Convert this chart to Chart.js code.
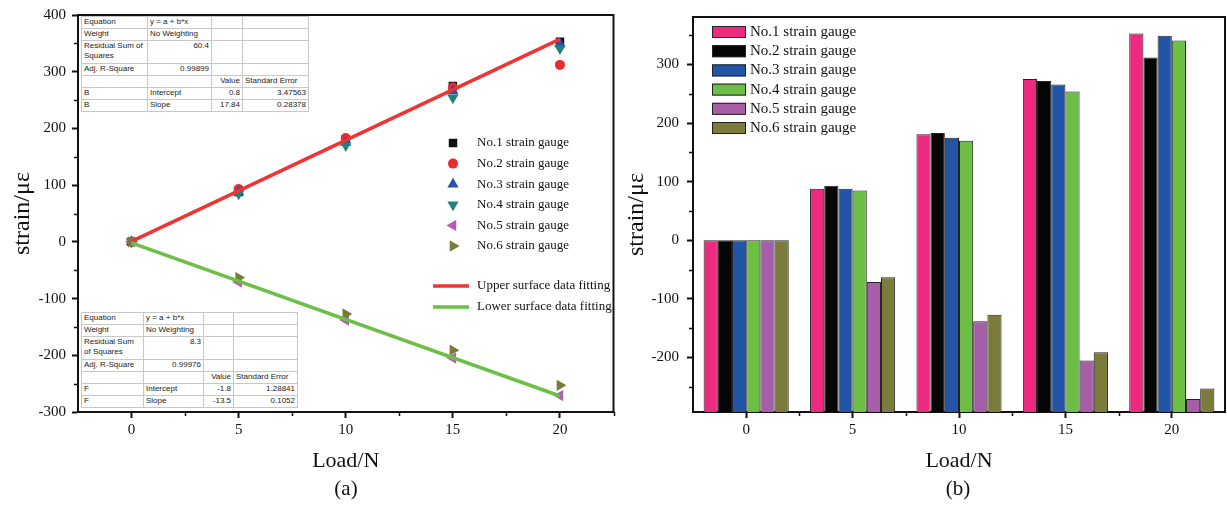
<!DOCTYPE html>
<html>
<head>
<meta charset="utf-8">
<script src="https://cdn.jsdelivr.net/npm/chart.js@4.4.1/dist/chart.umd.min.js"></script>
<style>
body { margin: 0; background: #fff; width: 1227px; height: 509px; position: relative; overflow: hidden; font-family: "Liberation Serif", "Times New Roman", serif; }
canvas { position: absolute; top: 0; }
#chartA { left: 0; }
#chartB { left: 620px; }
.fit { position: absolute; border-collapse: collapse; table-layout: fixed; background: #fff;
       font: 8px "Liberation Sans", Arial, sans-serif; color: #222; border: 1.5px solid #444; }
.fit td { border: 1px solid #c8c8c8; padding: 0 2px; height: 11px; line-height: 10px; vertical-align: top; white-space: nowrap; overflow: hidden; }
.fit td.r { text-align: right; }
.fit tr.tall td { height: 22px; white-space: normal; }
.panel { position: absolute; top: 476px; font-size: 21px; transform: translateX(-50%); color: #111; }
</style>
</head>
<body>
<canvas id="chartA" width="620" height="509"></canvas>
<canvas id="chartB" width="607" height="509"></canvas>
<table class="fit" id="tableUpper" style="left:81px; top:16px;"></table>
<table class="fit" id="tableLower" style="left:81px; top:312px;"></table>
<div class="panel" style="left:346px;">(a)</div>
<div class="panel" style="left:958px;">(b)</div>

<script>
// ---- data ----
const loadLabels = ['0', '5', '10', '15', '20'];
const loadValues = [0, 5, 10, 15, 20];
const gaugeNames = ['No.1 strain gauge', 'No.2 strain gauge', 'No.3 strain gauge',
                    'No.4 strain gauge', 'No.5 strain gauge', 'No.6 strain gauge'];
const gauge1 = [0, 88, 181, 275, 353];
const gauge2 = [0, 93, 183, 272, 312];
const gauge3 = [0, 88, 175, 266, 349];
const gauge4 = [0, 85, 170, 254, 341];
const gauge5 = [0, -71, -138, -205, -271];
const gauge6 = [0, -63, -127, -191, -253];
const gaugeSeries = [gauge1, gauge2, gauge3, gauge4, gauge5, gauge6];

// fitted lines, end points at Load = 0 and 20
const fitLoads = [0, 20];
const upperFit = [0.8, 357.6];
const lowerFit = [-1.8, -271.8];
const fitNames = ['Upper surface data fitting', 'Lower surface data fitting'];

// fit result tables
const upperStats = ['B', '60.4', '0.99899', '0.8', '3.47563', '17.84', '0.28378'];
const lowerStats = ['F', '8.3', '0.99976', '-1.8', '1.28841', '-13.5', '0.1052'];

// ticks
const yTicksA = [-300, -200, -100, 0, 100, 200, 300, 400];
const yMinorA = [-250, -150, -50, 50, 150, 250, 350];
const xTicksA = [0, 5, 10, 15, 20];
const xMinorA = [2.5, 7.5, 12.5, 17.5, 22.5];
const yTicksB = [-200, -100, 0, 100, 200, 300];
const yMinorB = [-250, -150, -50, 50, 150, 250, 350];
const xMinorB = [0.5, 1.5, 2.5, 3.5];
const yMinB = -293;
const yMaxB = 381;

// ---- styles ----
const markerColors = ['#111111', '#ea2a2c', '#2a50a8', '#23807b', '#b25cb6', '#7c7a36'];
const markerStyles = ['rect', 'circle', 'triangle', 'triangle', 'triangle', 'triangle'];
const markerRotation = [0, 0, 0, 180, 270, 90];
const markerRadius = [6, 5, 6.5, 6.5, 6.5, 6.5];
const barColors = ['#ee2a7e', '#060606', '#2255a6', '#6cbe44', '#a65fa7', '#7b7b3b'];
const fitColors = ['#ee3434', '#6cbf47'];
const serif = '"Liberation Serif", "Times New Roman", serif';
const ink = '#111';

// top/right frame and short minor ticks
const axisExtras = {
    id: 'axisExtras',
    afterDraw(chart, args, opts) {
        const { ctx, chartArea: a, scales } = chart;
        ctx.save();
        ctx.strokeStyle = ink;
        ctx.lineWidth = 2;
        ctx.beginPath();
        ctx.moveTo(a.left - 1, a.top);
        ctx.lineTo(a.right, a.top);
        ctx.lineTo(a.right, a.bottom + 1);
        ctx.stroke();
        ctx.lineWidth = 1.5;
        ctx.beginPath();
        (opts.xMinor || []).forEach(v => {
            const px = Math.round(scales.x.getPixelForValue(v)) + 0.5;
            ctx.moveTo(px, a.bottom);
            ctx.lineTo(px, a.bottom + 4);
        });
        (opts.yMinor || []).forEach(v => {
            const py = Math.round(scales.y.getPixelForValue(v)) + 0.5;
            ctx.moveTo(a.left, py);
            ctx.lineTo(a.left - 4, py);
        });
        ctx.stroke();
        ctx.restore();
    }
};

// legend of panel (a): markers + fit lines
const legendA = {
    id: 'legendA',
    afterDraw(chart) {
        const ctx = chart.ctx;
        ctx.save();
        ctx.font = '13px ' + serif;
        ctx.textBaseline = 'middle';
        chart.data.datasets.forEach((ds, i) => {
            ctx.fillStyle = ds.backgroundColor;
            ctx.strokeStyle = ds.borderColor;
            if (ds.showLine) {
                const y = 286 + (i - 6) * 21;
                ctx.lineWidth = ds.borderWidth;
                ctx.beginPath();
                ctx.moveTo(433, y);
                ctx.lineTo(469, y);
                ctx.stroke();
                ctx.fillStyle = ink;
                ctx.fillText(ds.label, 477, y);
            } else {
                const y = 143 + i * 20.6;
                Chart.helpers.drawPoint(ctx, {
                    pointStyle: ds.pointStyle, rotation: ds.pointRotation,
                    radius: ds.pointRadius, borderWidth: 0
                }, 453, y);
                ctx.fillStyle = ink;
                ctx.fillText(ds.label, 477, y);
            }
        });
        ctx.restore();
    }
};

// legend of panel (b): boxed swatches
const legendB = {
    id: 'legendB',
    afterDraw(chart) {
        const ctx = chart.ctx;
        ctx.save();
        ctx.font = '15px ' + serif;
        ctx.textBaseline = 'middle';
        chart.data.datasets.forEach((ds, i) => {
            const y = 32 + i * 19.2;
            ctx.fillStyle = ds.backgroundColor;
            ctx.fillRect(92, y - 6, 34, 12);
            ctx.strokeStyle = '#222';
            ctx.lineWidth = 1;
            ctx.strokeRect(92.5, y - 5.5, 33, 11);
            ctx.fillStyle = ink;
            ctx.fillText(ds.label, 130, y);
        });
        ctx.restore();
    }
};

function tickFont() { return { family: serif, size: 15 }; }

// ---- panel (a): scatter + linear fits ----
const scatterSets = gaugeSeries.map((vals, i) => ({
    label: gaugeNames[i],
    data: vals.map((v, k) => ({ x: loadValues[k], y: v })),
    backgroundColor: markerColors[i],
    borderColor: markerColors[i],
    pointStyle: markerStyles[i],
    pointRotation: markerRotation[i],
    pointRadius: markerRadius[i],
    pointBorderWidth: 0,
    order: 8 - i
}));
const fitSets = [upperFit, lowerFit].map((vals, i) => ({
    label: fitNames[i],
    data: vals.map((v, k) => ({ x: fitLoads[k], y: v })),
    showLine: true,
    borderColor: fitColors[i],
    backgroundColor: fitColors[i],
    borderWidth: 3.5,
    pointRadius: 0,
    order: 1 - i
}));

const chartA = new Chart(document.getElementById('chartA').getContext('2d'), {
    type: 'scatter',
    data: { datasets: scatterSets.concat(fitSets) },
    options: {
        responsive: false,
        animation: false,
        devicePixelRatio: 1,
        layout: { padding: { top: 14, right: 5, left: 0, bottom: 0 } },
        plugins: {
            legend: { display: false },
            tooltip: { enabled: false },
            axisExtras: { xMinor: xMinorA, yMinor: yMinorA }
        },
        scales: {
            x: {
                type: 'linear', min: -2.5, max: 22.5,
                afterBuildTicks: s => { s.ticks = xTicksA.map(v => ({ value: v })); },
                afterFit: s => { s.height = 97; },
                grid: { drawOnChartArea: false, tickLength: 6, tickWidth: 2, tickColor: ink },
                border: { color: ink, width: 2 },
                ticks: { font: tickFont(), color: ink, padding: 3, maxRotation: 0 },
                title: { display: true, text: 'Load/N', font: { family: serif, size: 22 }, color: ink, padding: { bottom: 35 } }
            },
            y: {
                min: -300, max: 400,
                afterBuildTicks: s => { s.ticks = yTicksA.map(v => ({ value: v })); },
                afterFit: s => { s.width = 78; },
                grid: { drawOnChartArea: false, tickLength: 6, tickWidth: 2, tickColor: ink },
                border: { color: ink, width: 2 },
                ticks: { font: tickFont(), color: ink, padding: 6 },
                title: { display: true, text: 'strain/με', font: { family: serif, size: 24 }, color: ink, padding: { top: 8 } }
            }
        }
    },
    plugins: [axisExtras, legendA]
});

// ---- panel (b): grouped bars ----
const chartB = new Chart(document.getElementById('chartB').getContext('2d'), {
    type: 'bar',
    data: {
        labels: loadLabels,
        datasets: gaugeSeries.map((vals, i) => ({
            label: gaugeNames[i],
            data: vals,
            backgroundColor: barColors[i],
            borderColor: '#222',
            borderWidth: 1,
            base: yMinB,
            categoryPercentage: 0.8,
            barPercentage: 1.0
        }))
    },
    options: {
        responsive: false,
        animation: false,
        devicePixelRatio: 1,
        layout: { padding: { top: 14, right: 2, left: 0, bottom: 0 } },
        plugins: {
            legend: { display: false },
            tooltip: { enabled: false },
            axisExtras: { xMinor: xMinorB, yMinor: yMinorB }
        },
        scales: {
            x: {
                afterFit: s => { s.height = 97; },
                grid: { offset: false, drawOnChartArea: false, tickLength: 6, tickWidth: 2, tickColor: ink },
                border: { color: ink, width: 2 },
                ticks: { font: tickFont(), color: ink, padding: 3, maxRotation: 0 },
                title: { display: true, text: 'Load/N', font: { family: serif, size: 22 }, color: ink, padding: { bottom: 35 } }
            },
            y: {
                min: yMinB, max: yMaxB,
                afterBuildTicks: s => { s.ticks = yTicksB.map(v => ({ value: v })); },
                afterFit: s => { s.width = 73; },
                grid: { drawOnChartArea: false, tickLength: 6, tickWidth: 2, tickColor: ink },
                border: { color: ink, width: 2 },
                ticks: { font: tickFont(), color: ink, padding: 8 },
                title: { display: true, text: 'strain/με', font: { family: serif, size: 24 }, color: ink, padding: { top: 2 } }
            }
        }
    },
    plugins: [axisExtras, legendB]
});

// ---- fit result tables ----
function buildFitTable(id, stats, colWidths) {
    const [coef, rss, adjR2, icpt, icptErr, slope, slopeErr] = stats;
    const rows = [
        ['Equation', 'y = a + b*x', '', ''],
        ['Weight', 'No Weighting', '', ''],
        ['Residual Sum of Squares', rss, '', ''],
        ['Adj. R-Square', adjR2, '', ''],
        ['', '', 'Value', 'Standard Error'],
        [coef, 'Intercept', icpt, icptErr],
        [coef, 'Slope', slope, slopeErr]
    ];
    const rightAligned = (r, c) => (r >= 2 && r <= 3 && c === 1) || (r >= 4 && c === 2) || (r >= 5 && c === 3);
    const table = document.getElementById(id);
    let html = '<colgroup>' + colWidths.map(w => '<col style="width:' + w + 'px">').join('') + '</colgroup>';
    rows.forEach((row, r) => {
        html += '<tr' + (r === 2 ? ' class="tall"' : '') + '>';
        row.forEach((cell, c) => {
            html += '<td' + (rightAligned(r, c) ? ' class="r"' : '') + '>' + cell + '</td>';
        });
        html += '</tr>';
    });
    table.innerHTML = html;
    table.style.width = colWidths.reduce((a, b) => a + b, 0) + 'px';
}
buildFitTable('tableUpper', upperStats, [66, 64, 31, 66]);
buildFitTable('tableLower', lowerStats, [62, 60, 30, 64]);
</script>
</body>
</html>
